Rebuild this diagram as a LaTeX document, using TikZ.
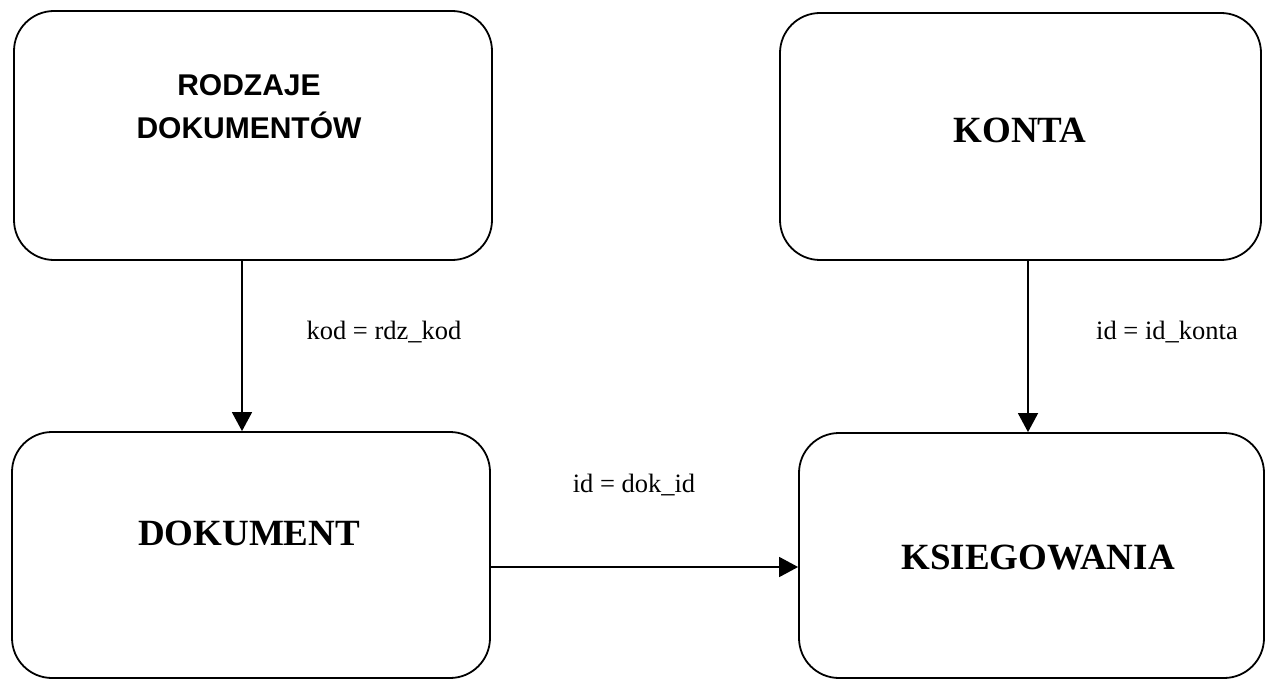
\documentclass[tikz,border=0pt]{standalone}
\usepackage{fontspec}
\setmainfont{Liberation Serif}
\newfontfamily\arialfont{Liberation Sans}
\usetikzlibrary{arrows.meta}
\tikzset{
  table/.style={draw, line width=1.8pt, rounded corners=40pt, inner sep=0pt},
  titleserif/.style={font=\fontsize{37}{44}\selectfont\bfseries},
  titlesans/.style={font=\fontsize{30}{43}\selectfont\arialfont\bfseries, align=center},
  rel/.style={font=\fontsize{26.5}{30}\selectfont},
  fk/.style={line width=1.6pt, -{Triangle[width=20pt,length=19pt]}}
}
\begin{document}
\begin{tikzpicture}[x=1pt, y=-1pt]
  \useasboundingbox (0,0) rectangle (1266,679);

  % tables
  \node[table, minimum width=478pt, minimum height=249pt] (rodz) at (253,135.5) {};
  \node[table, minimum width=481pt, minimum height=247pt] (konta) at (1020.5,136.5) {};
  \node[table, minimum width=478pt, minimum height=246pt] (dok) at (251,555) {};
  \node[table, minimum width=465pt, minimum height=245pt] (ksieg) at (1031.5,555.5) {};

  % table names
  \node[titlesans] (trodz) at (249,107) {RODZAJE\\DOKUMENTÓW};
  \node[titleserif] (tkonta) at (1020,130) {KONTA};
  \node[titleserif] (tdok) at (249,533) {DOKUMENT};
  \node[titleserif] (tksieg) at (1038,558) {KSIEGOWANIA};

  % relations
  \draw[fk] ([xshift=-11pt]rodz.south) -- ([xshift=-11pt]rodz.south |- dok.north);
  \draw[fk] ([xshift=7.5pt]konta.south) -- ([xshift=7.5pt]konta.south |- ksieg.north);
  \draw[fk] ([yshift=-12pt]dok.east) -- ([yshift=-12pt]dok.east -| ksieg.west);

  % join conditions
  \node[rel] (l1) at (384,332) {kod = rdz\_kod};
  \node[rel] (l2) at (1167,332) {id = id\_konta};
  \node[rel] (l3) at (634,485) {id = dok\_id};
\end{tikzpicture}
\end{document}
